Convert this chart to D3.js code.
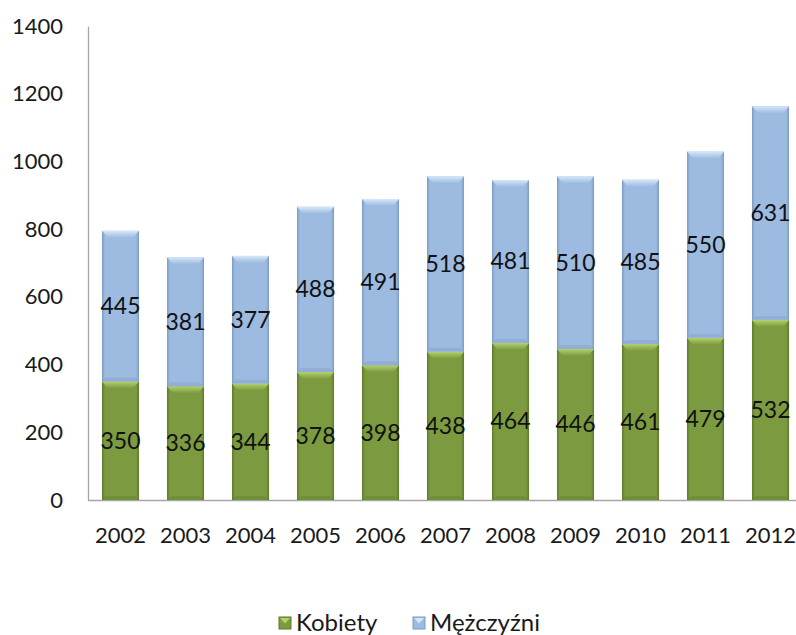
<!DOCTYPE html>
<html>
<head>
<meta charset="utf-8">
<script src="https://cdn.jsdelivr.net/npm/d3@7"></script>
<style>
  body { margin: 0; background: #fff; }
  svg { font-family: Lato, 'Noto Sans', sans-serif; }
</style>
</head>
<body>
<svg></svg>
<script>
const years = ['2002', '2003', '2004', '2005', '2006', '2007', '2008', '2009', '2010', '2011', '2012'];
const kobiety = [350, 336, 344, 378, 398, 438, 464, 446, 461, 479, 532];
const mezczyzni = [445, 381, 377, 488, 491, 518, 481, 510, 485, 550, 631];
const seriesNames = ['Kobiety', 'Mężczyźni'];
const yTicks = [0, 200, 400, 600, 800, 1000, 1200, 1400];

const width = 796;
const height = 635;
const plotLeft = 88;
const plotTop = 26;
const plotBottom = 500;
const colors = ['#7c9b40', '#9dbbe0'];
const light = ['#b4d16e', '#d6e7f9'];
const dark = ['#5c7a2a', '#7c9bc2'];

const rows = years.map((y, i) => ({ year: y, k: kobiety[i], m: mezczyzni[i] }));
const stacked = d3.stack().keys(['k', 'm'])(rows);

const xScale = d3.scaleBand()
                    .domain(years)
                    .range([plotLeft, plotLeft + 65 * years.length])
                    .paddingInner(0.43)
                    .paddingOuter(0.215);
const yScale = d3.scaleLinear()
                    .domain([0, 1400])
                    .range([plotBottom, plotTop]);

const svg = d3.select('svg')
        .attr('width', width)
        .attr('height', height);

// gradients for side shading
const defs = svg.append('defs');
colors.forEach((c, s) => {
    const g = defs.append('linearGradient')
        .attr('id', 'grad' + s)
        .attr('x1', 0).attr('x2', 1).attr('y1', 0).attr('y2', 0);
    g.append('stop').attr('offset', '0%').attr('stop-color', dark[s]);
    g.append('stop').attr('offset', '8%').attr('stop-color', c);
    g.append('stop').attr('offset', '92%').attr('stop-color', c);
    g.append('stop').attr('offset', '100%').attr('stop-color', dark[s]);
    const t = defs.append('linearGradient')
        .attr('id', 'top' + s)
        .attr('x1', 0).attr('x2', 0).attr('y1', 0).attr('y2', 1);
    t.append('stop').attr('offset', '0%').attr('stop-color', light[s]);
    t.append('stop').attr('offset', '100%').attr('stop-color', c);
});

// y axis
const yAxis = d3.axisLeft(yScale)
                    .tickValues(yTicks)
                    .tickFormat(d3.format('d'))
                    .tickSize(0)
                    .tickPadding(25);
svg.append('g')
        .attr('transform', 'translate(' + plotLeft + ',0)')
        .call(yAxis)
        .call(g => g.select('.domain').attr('stroke', '#a6a6a6').attr('stroke-width', 1.3))
        .call(g => g.selectAll('text').attr('font-size', '22px').attr('fill', '#1a1a1a').attr('font-family', 'Lato'));

// baseline
svg.append('line')
        .attr('x1', plotLeft)
        .attr('x2', width)
        .attr('y1', plotBottom + 0.5)
        .attr('y2', plotBottom + 0.5)
        .attr('stroke', '#a6a6a6')
        .attr('stroke-width', 1.3);

// bars
const bw = xScale.bandwidth();
stacked.forEach((layer, s) => {
    const g = svg.append('g');
    const seg = g.selectAll('g')
        .data(layer)
        .enter()
        .append('g');
    seg.append('rect')
        .attr('x', d => xScale(d.data.year))
        .attr('y', d => yScale(d[1]))
        .attr('width', bw)
        .attr('height', d => yScale(d[0]) - yScale(d[1]))
        .attr('fill', 'url(#grad' + s + ')');
    // bevel top
    seg.append('path')
        .attr('d', d => {
            const x0 = xScale(d.data.year), y0 = yScale(d[1]);
            return 'M' + x0 + ',' + y0 + 'L' + (x0 + bw) + ',' + y0 +
                   'L' + (x0 + bw - 6) + ',' + (y0 + 7) + 'L' + (x0 + 6) + ',' + (y0 + 7) + 'Z';
        })
        .attr('fill', 'url(#top' + s + ')');
    // bevel bottom
    seg.append('path')
        .attr('d', d => {
            const x0 = xScale(d.data.year), y1 = yScale(d[0]);
            return 'M' + x0 + ',' + y1 + 'L' + (x0 + bw) + ',' + y1 +
                   'L' + (x0 + bw - 4) + ',' + (y1 - 4) + 'L' + (x0 + 4) + ',' + (y1 - 4) + 'Z';
        })
        .attr('fill', dark[s])
        .attr('opacity', 0.35);
    seg.append('text')
        .attr('x', d => xScale(d.data.year) + bw / 2)
        .attr('y', d => (yScale(d[0]) + yScale(d[1])) / 2 + 8)
        .attr('text-anchor', 'middle')
        .attr('font-size', '23px')
        .attr('fill', '#111')
        .text(d => d[1] - d[0]);
});

// x labels
svg.append('g')
    .selectAll('text')
    .data(years)
    .enter()
    .append('text')
        .attr('x', d => xScale(d) + bw / 2)
        .attr('y', plotBottom + 43)
        .attr('text-anchor', 'middle')
        .attr('font-size', '22px')
        .attr('fill', '#1a1a1a')
        .text(d => d);

// legend
const legendX = [279, 413];
seriesNames.forEach((name, s) => {
    const lg = svg.append('g')
        .attr('transform', 'translate(' + legendX[s] + ',' + 617 + ')');
    lg.append('rect')
        .attr('width', 12)
        .attr('height', 12)
        .attr('fill', colors[s])
        .attr('stroke', dark[s]);
    lg.append('path')
        .attr('d', 'M1,1L11,1L6,6.5Z')
        .attr('fill', light[s]);
    lg.append('text')
        .attr('x', 17)
        .attr('y', 13.5)
        .attr('font-size', '24px')
        .attr('fill', '#1a1a1a')
        .text(name);
});
</script>
</body>
</html>
